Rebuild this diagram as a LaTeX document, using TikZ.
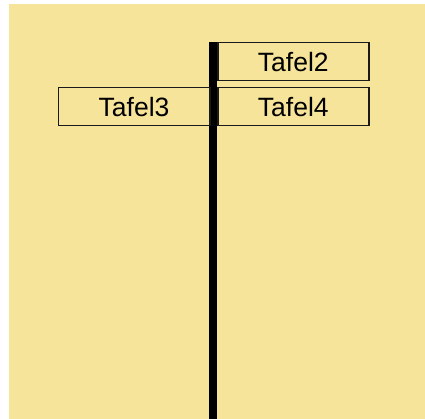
\documentclass[tikz,border=0pt]{standalone}
\usepackage{fontspec}
\setmainfont{Liberation Sans}
\definecolor{bg}{HTML}{F7E49B}
\definecolor{bd}{HTML}{1A1A1A}
\begin{document}
\begin{tikzpicture}[x=1pt,y=-1pt,
  tafel/.style={draw=bd,line width=1.5pt,minimum width=151pt,minimum height=38pt,inner sep=0pt,font=\fontsize{26.5}{30}\selectfont,anchor=north west}]
\useasboundingbox (0,0) rectangle (425,419);
\fill[bg] (9,4) rectangle (425,419);
\fill[black] (209,42) rectangle (217,419);
\node[tafel] (t2) at (217,42) {Tafel2};
\node[tafel,minimum width=151.5pt] (t3) at (57.5,87) {Tafel3};
\node[tafel] (t4) at (217,87) {Tafel4};
\end{tikzpicture}
\end{document}
